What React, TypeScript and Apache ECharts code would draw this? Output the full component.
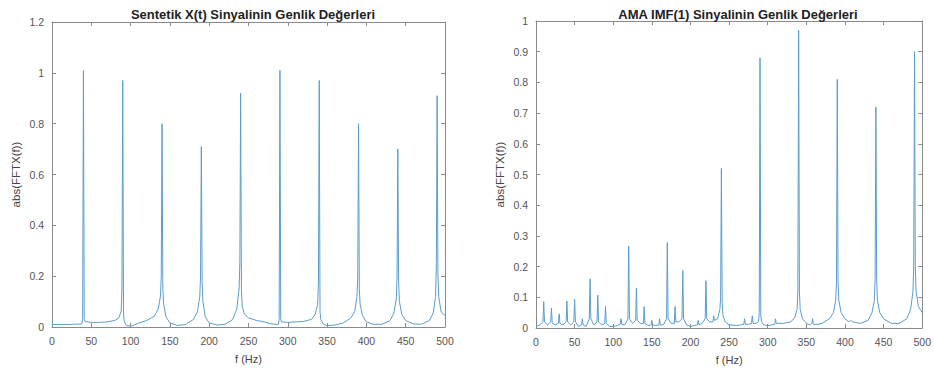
import React, { useEffect, useRef } from "react";
import * as echarts from "echarts";

const titleLeft = "Sentetik X(t) Sinyalinin Genlik Değerleri";
const titleRight = "AMA IMF(1) Sinyalinin Genlik Değerleri";
const xName = "f (Hz)";
const yName = "abs(FFTX(f))";

// Synthetic signal spectrum [f (Hz), |FFT|]
const leftSpectrum: number[][] = [
  [0, 0.01], [10, 0.01], [20, 0.01], [30, 0.011], [38, 0.012], [39, 0.03], [40, 1.01], [41, 0.03], [42, 0.022],
  [50, 0.018], [60, 0.018], [70, 0.02], [80, 0.026], [85, 0.036], [88, 0.062], [89, 0.15], [90, 0.97], [91, 0.05], [92, 0.02],
  [95, 0.006], [100, 0.003], [105, 0.008], [110, 0.015], [120, 0.025], [130, 0.042], [135, 0.07], [138, 0.12], [139, 0.2],
  [140, 0.8], [141, 0.15], [142, 0.09], [145, 0.04], [150, 0.016], [160, 0.006], [170, 0.01], [180, 0.03], [185, 0.06],
  [188, 0.12], [189, 0.2], [190, 0.71], [191, 0.18], [192, 0.1], [195, 0.04], [200, 0.016], [210, 0.008], [220, 0.01],
  [230, 0.03], [235, 0.07], [238, 0.15], [239, 0.25], [240, 0.92], [241, 0.15], [242, 0.08], [245, 0.05], [250, 0.036],
  [260, 0.026], [270, 0.02], [280, 0.012], [288, 0.01], [289, 0.03], [290, 1.01], [291, 0.03], [292, 0.02], [300, 0.018],
  [310, 0.02], [320, 0.022], [330, 0.03], [335, 0.05], [338, 0.09], [339, 0.18], [340, 0.97], [341, 0.06], [342, 0.03],
  [345, 0.012], [350, 0.005], [360, 0.008], [370, 0.015], [380, 0.035], [385, 0.06], [388, 0.12], [389, 0.2], [390, 0.8],
  [391, 0.15], [392, 0.09], [395, 0.045], [400, 0.02], [410, 0.01], [420, 0.011], [430, 0.025], [435, 0.055], [438, 0.11],
  [439, 0.2], [440, 0.7], [441, 0.18], [442, 0.1], [445, 0.05], [450, 0.025], [460, 0.012], [470, 0.011], [480, 0.025],
  [485, 0.055], [488, 0.12], [489, 0.25], [490, 0.91], [491, 0.2], [492, 0.12], [495, 0.06], [500, 0.045],
];

// AMA IMF(1) spectrum [f (Hz), |FFT|]
const rightSpectrum: number[][] = [
  [0, 0.005], [5, 0.01], [9, 0.02], [10, 0.086], [11, 0.02], [15, 0.01], [19, 0.02], [20, 0.065], [21, 0.015], [25, 0.01],
  [29, 0.015], [30, 0.046], [31, 0.015], [35, 0.01], [39, 0.02], [40, 0.088], [41, 0.02], [45, 0.01], [49, 0.02], [50, 0.094],
  [51, 0.02], [55, 0.005], [59, 0.01], [60, 0.03], [61, 0.01], [65, 0.005], [69, 0.03], [70, 0.16], [71, 0.03], [75, 0.01],
  [79, 0.02], [80, 0.107], [81, 0.02], [85, 0.01], [89, 0.015], [90, 0.07], [91, 0.015], [95, 0.005], [100, 0.005], [105, 0.008],
  [109, 0.012], [110, 0.03], [111, 0.012], [115, 0.01], [119, 0.03], [120, 0.267], [121, 0.03], [125, 0.015], [129, 0.025],
  [130, 0.13], [131, 0.025], [135, 0.015], [139, 0.015], [140, 0.07], [141, 0.015], [145, 0.008], [149, 0.01], [150, 0.025],
  [151, 0.01], [155, 0.008], [159, 0.01], [160, 0.03], [161, 0.01], [165, 0.01], [169, 0.03], [170, 0.278], [171, 0.03],
  [175, 0.015], [179, 0.015], [180, 0.07], [181, 0.02], [185, 0.02], [189, 0.03], [190, 0.187], [191, 0.03], [195, 0.01],
  [200, 0.005], [205, 0.008], [209, 0.01], [210, 0.025], [211, 0.01], [215, 0.015], [219, 0.03], [220, 0.154], [221, 0.03],
  [225, 0.02], [229, 0.02], [230, 0.04], [231, 0.025], [235, 0.03], [238, 0.06], [239, 0.1], [240, 0.52], [241, 0.08],
  [242, 0.04], [245, 0.02], [250, 0.01], [260, 0.008], [265, 0.01], [269, 0.012], [270, 0.03], [271, 0.012], [275, 0.012],
  [279, 0.015], [280, 0.04], [281, 0.015], [285, 0.015], [288, 0.02], [289, 0.05], [290, 0.88], [291, 0.04], [292, 0.02],
  [295, 0.01], [300, 0.008], [305, 0.01], [309, 0.012], [310, 0.03], [311, 0.015], [320, 0.015], [330, 0.02], [335, 0.035],
  [338, 0.06], [339, 0.12], [340, 0.97], [341, 0.12], [342, 0.06], [345, 0.03], [350, 0.015], [355, 0.01], [357, 0.015],
  [358, 0.03], [359, 0.012], [365, 0.012], [370, 0.015], [380, 0.03], [385, 0.05], [388, 0.09], [389, 0.15], [390, 0.81],
  [391, 0.15], [392, 0.09], [395, 0.05], [400, 0.03], [405, 0.02], [407, 0.025], [410, 0.02], [420, 0.015], [430, 0.025],
  [435, 0.05], [438, 0.09], [439, 0.16], [440, 0.72], [441, 0.16], [442, 0.09], [445, 0.05], [450, 0.03], [460, 0.015],
  [470, 0.015], [480, 0.03], [485, 0.06], [488, 0.12], [489, 0.2], [490, 0.9], [491, 0.2], [492, 0.12], [495, 0.07], [500, 0.05],
];

const FONT = "Liberation Sans";
const AXIS_COLOR = "#8a8a8a";
const LABEL_COLOR = "#555";
const LINE_COLOR = "#5b9dcc";

export default function App() {
  const ref = useRef<HTMLDivElement>(null);
  useEffect(() => {
    if (!ref.current) return;
    const chart = echarts.init(ref.current, null, { renderer: "svg" });

    const mkX = (grid: number, top: boolean) => ({
      type: "value" as const,
      gridIndex: grid,
      min: 0,
      max: 500,
      interval: 50,
      position: top ? "top" : "bottom",
      name: top ? "" : xName,
      nameLocation: "middle" as const,
      nameGap: 26,
      nameTextStyle: { fontFamily: FONT, fontSize: 11, color: "#444" },
      axisLine: { show: true, onZero: false, lineStyle: { color: AXIS_COLOR, width: 1 } },
      axisTick: { show: true, inside: true, length: 4, lineStyle: { color: AXIS_COLOR } },
      axisLabel: { show: !top, fontFamily: FONT, fontSize: 10.5, color: LABEL_COLOR, margin: 8 },
      splitLine: { show: false },
    });
    const mkY = (grid: number, right: boolean, max: number, interval: number) => ({
      type: "value" as const,
      gridIndex: grid,
      min: 0,
      max,
      interval,
      position: right ? "right" : "left",
      name: right ? "" : yName,
      nameLocation: "middle" as const,
      nameGap: 30,
      nameTextStyle: { fontFamily: FONT, fontSize: 11.5, color: "#444" },
      axisLine: { show: true, onZero: false, lineStyle: { color: AXIS_COLOR, width: 1 } },
      axisTick: { show: true, inside: true, length: 4, lineStyle: { color: AXIS_COLOR } },
      axisLabel: {
        show: !right,
        fontFamily: FONT,
        fontSize: 10.5,
        color: LABEL_COLOR,
        margin: 8,
        formatter: (v: number) => String(Math.round(v * 10) / 10),
      },
      splitLine: { show: false },
    });

    chart.setOption({
      animation: false,
      backgroundColor: "#fff",
      title: [
        {
          text: titleLeft,
          left: 248,
          top: 3,
          textAlign: "center",
          textStyle: { fontFamily: FONT, fontSize: 13, fontWeight: "bold", color: "#222" },
        },
        {
          text: titleRight,
          left: 733,
          top: 3,
          textAlign: "center",
          textStyle: { fontFamily: FONT, fontSize: 13, fontWeight: "bold", color: "#222" },
        },
      ],
      grid: [
        { left: 52, right: 489, top: 22, bottom: 49 },
        { left: 536, right: 6, top: 21, bottom: 48 },
      ],
      xAxis: [mkX(0, false), mkX(0, true), mkX(1, false), mkX(1, true)],
      yAxis: [mkY(0, false, 1.2, 0.2), mkY(0, true, 1.2, 0.2), mkY(1, false, 1, 0.1), mkY(1, true, 1, 0.1)],
      series: [
        {
          type: "line",
          xAxisIndex: 0,
          yAxisIndex: 0,
          data: leftSpectrum,
          showSymbol: false,
          lineStyle: { color: LINE_COLOR, width: 1 },
          itemStyle: { color: LINE_COLOR },
        },
        {
          type: "line",
          xAxisIndex: 2,
          yAxisIndex: 2,
          data: rightSpectrum,
          showSymbol: false,
          lineStyle: { color: LINE_COLOR, width: 1 },
          itemStyle: { color: LINE_COLOR },
        },
      ],
    });
    return () => chart.dispose();
  }, []);
  return (
    <div
      ref={ref}
      style={{ position: "fixed", left: 0, top: 0, width: 934, height: 376, background: "#fff" }}
    />
  );
}
